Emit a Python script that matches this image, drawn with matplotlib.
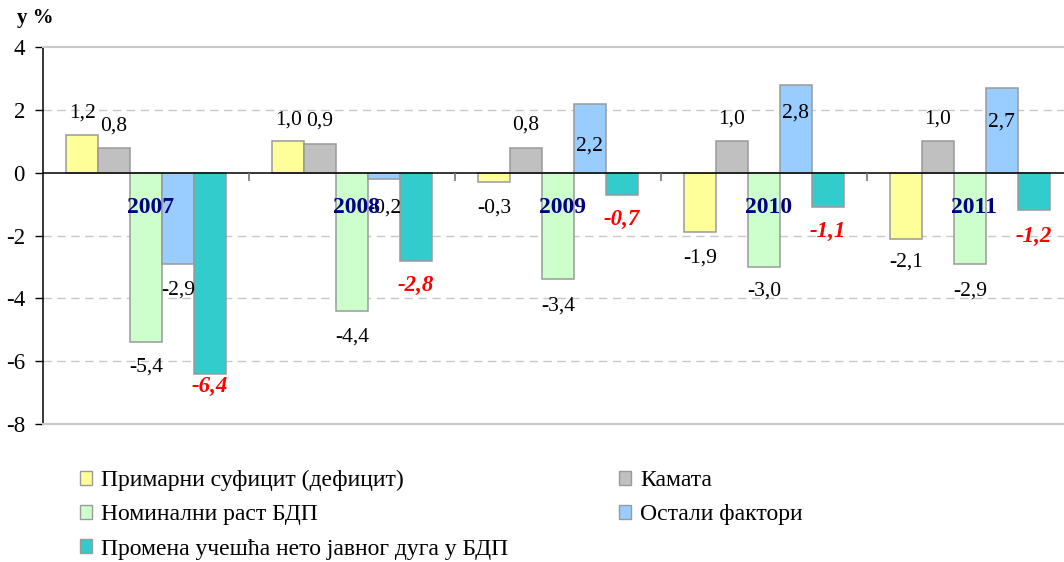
import matplotlib
matplotlib.use("Agg")
import matplotlib.pyplot as plt
from matplotlib.lines import TICKDOWN
from matplotlib.patches import Patch
import numpy as np

# ---- data ----
years = ['2007', '2008', '2009', '2010', '2011']
series_names = ['Примарни суфицит (дефицит)', 'Камата', 'Номинални раст БДП',
                'Остали фактори', 'Промена учешћа нето јавног дуга у БДП']
primary = [1.2, 1.0, -0.3, -1.9, -2.1]
interest = [0.8, 0.9, 0.8, 1.0, 1.0]
gdp_growth = [-5.4, -4.4, -3.4, -3.0, -2.9]
other = [-2.9, -0.2, 2.2, 2.8, 2.7]
change = [-6.4, -2.8, -0.7, -1.1, -1.2]
yticks = [-8, -6, -4, -2, 0, 2, 4]

# ---- style ----
colors = ['#FFFF99', '#C0C0C0', '#CCFFCC', '#99CCFF', '#33CCCC']
# label distance (pixels) from bar end, positive = outward
label_off = [
    [22, 21, 26, 26, 23],
    [21, 23, 22, 22, 22],
    [25, 26, 27, 24, 27],
    [26, 29, -42, -28, -34],
    [13, 25, 25, 24, 26],
]

plt.rcParams['font.family'] = ['Liberation Serif', 'DejaVu Serif']
plt.rcParams['axes.unicode_minus'] = False

W, H = 1064, 562
fig = plt.figure(figsize=(W / 100, H / 100), dpi=100)
left, right, top, bottom = 43, 1073, 47, 424
ax = fig.add_axes([left / W, 1 - bottom / H, (right - left) / W, (bottom - top) / H])

series = [primary, interest, gdp_growth, other, change]
x = np.arange(len(years))
bw = 0.155
px_per_pt = 100 / 72.0

for k, vals in enumerate(series):
    xs = x + (k - 2) * bw
    ax.bar(xs, vals, width=bw, color=colors[k], edgecolor='#9A9A9A', linewidth=1.1, zorder=3)
    for j, v in enumerate(vals):
        txt = f"{v:.1f}".replace('.', ',')
        off = label_off[k][j] / px_per_pt
        dy = off if v >= 0 else -off
        if k == 4:
            kw = dict(color='#FF0000', fontweight='bold', fontstyle='italic', fontsize=16.5)
        else:
            kw = dict(color='black', fontsize=15.5)
        ax.annotate(txt, (xs[j], v), xytext=(0, dy), textcoords='offset points',
                    ha='center', va='center', zorder=5, **kw)

for j, yr in enumerate(years):
    ax.text(x[j] + 0.02, -1.12, yr, ha='center', va='center', fontsize=17,
            fontweight='bold', color='#000080', zorder=6)

ax.set_xlim(-0.5, 4.5)
ax.set_ylim(-8, 4)
ax.set_yticks(yticks)
ax.set_yticklabels([str(t) for t in yticks], fontsize=16.5)
ax.set_xticks([])
ax.tick_params(axis='y', length=6, width=1, pad=7, color='black')

for yv in [-6, -4, -2, 2]:
    ax.axhline(yv, color='#C8C8C8', linestyle=(0, (6, 4)), linewidth=1, zorder=1)
ax.axhline(0, color='black', linewidth=1.1, zorder=4)
ax.plot(x[:-1] + 0.5, np.zeros(len(years) - 1), linestyle='none', marker=TICKDOWN,
        markersize=6, color='#777777', markeredgewidth=1.2, zorder=4)

ax.spines['right'].set_visible(False)
ax.spines['left'].set_color('black')
ax.spines['left'].set_linewidth(1.1)
ax.spines['top'].set_color('#C8C8C8')
ax.spines['bottom'].set_color('#C8C8C8')
ax.spines['top'].set_linewidth(1.5)
ax.spines['bottom'].set_linewidth(1.5)

fig.text(17 / W, 1 - 18 / H, 'у %', fontsize=15, fontweight='bold', ha='left', va='center')

handles = [Patch(facecolor=c, edgecolor='#9A9A9A', linewidth=1) for c in colors]
leg_kw = dict(frameon=False, fontsize=17, handlelength=0.52, handleheight=0.52,
              handletextpad=0.38, labelspacing=0.56, borderpad=0, borderaxespad=0,
              loc='upper left')
leg1 = fig.legend([handles[0], handles[2], handles[4]],
                  [series_names[0], series_names[2], series_names[4]],
                  bbox_to_anchor=(80 / W, 1 - 470 / H), **leg_kw)
leg2 = fig.legend([handles[1], handles[3]], [series_names[1], series_names[3]],
                  bbox_to_anchor=(619 / W, 1 - 470 / H), **leg_kw)

fig.savefig('out.png', dpi=100)
